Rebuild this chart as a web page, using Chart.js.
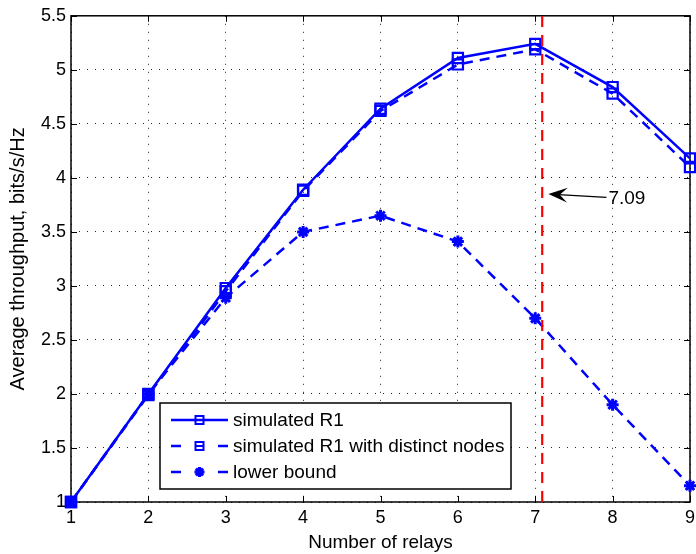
<!DOCTYPE html>
<html>
<head>
<meta charset="utf-8">
<script src="https://cdn.jsdelivr.net/npm/chart.js@4.4.0/dist/chart.umd.min.js"></script>
<style>
  html, body { margin: 0; padding: 0; background: #fff; }
</style>
</head>
<body>
<canvas id="relayChart" width="696" height="554"></canvas>
<script>
// data
const relays = [1, 2, 3, 4, 5, 6, 7, 8, 9];
const simR1 = [1.0, 2.0, 2.98, 3.89, 4.64, 5.11, 5.24, 4.84, 4.18];
const simDistinct = [1.0, 1.99, 2.95, 3.88, 4.62, 5.05, 5.19, 4.78, 4.10];
const lowerBound = [1.0, 2.0, 2.89, 3.50, 3.65, 3.41, 2.70, 1.90, 1.15];
const optimumX = 7.09;
const xTicks = [1, 2, 3, 4, 5, 6, 7, 8, 9];
const yTicks = [1, 1.5, 2, 2.5, 3, 3.5, 4, 4.5, 5, 5.5];
const legendLabels = ['simulated R1', 'simulated R1 with distinct nodes', 'lower bound'];
const noteText = '7.09';
const noteTip = [7.17, 3.85];
const noteTail = [7.92, 3.82];

const BLUE = '#0000ff';
const FONT = '"Liberation Sans", Arial, Helvetica, sans-serif';

const toPoints = ys => relays.map((x, i) => ({ x: x, y: ys[i] }));

// axes box + inward ticks (matlab style)
const boxPlugin = {
    id: 'box',
    beforeDatasetsDraw(chart) {
        const { ctx, chartArea: a, scales } = chart;
        ctx.save();
        ctx.strokeStyle = '#000';
        ctx.lineWidth = 1;
        ctx.beginPath();
        xTicks.forEach(v => {
            const px = Math.round(scales.x.getPixelForValue(v)) + 0.5;
            ctx.moveTo(px, a.bottom); ctx.lineTo(px, a.bottom - 6);
            ctx.moveTo(px, a.top); ctx.lineTo(px, a.top + 6);
        });
        yTicks.forEach(v => {
            const py = Math.round(scales.y.getPixelForValue(v)) + 0.5;
            ctx.moveTo(a.left, py); ctx.lineTo(a.left + 6, py);
            ctx.moveTo(a.right, py); ctx.lineTo(a.right - 6, py);
        });
        ctx.stroke();
        ctx.lineWidth = 1.5;
        ctx.strokeRect(a.left, a.top, a.right - a.left, a.bottom - a.top);
        ctx.restore();
    }
};

function drawMarker(ctx, style, x, y) {
    ctx.beginPath();
    if (style === 'rect') {
        ctx.rect(x - 4, y - 4, 8, 8);
        ctx.moveTo(x - 4, y); ctx.lineTo(x + 4, y);
    } else {
        for (let k = 0; k < 4; k++) {
            const ang = k * Math.PI / 4;
            ctx.moveTo(x - 5 * Math.cos(ang), y - 5 * Math.sin(ang));
            ctx.lineTo(x + 5 * Math.cos(ang), y + 5 * Math.sin(ang));
        }
    }
    ctx.stroke();
}

// legend box inside the plot, lower left
const legendPlugin = {
    id: 'innerLegend',
    afterDraw(chart) {
        const { ctx, chartArea: a } = chart;
        const left = a.left + 89, top = a.bottom - 99, w = 351, h = 86;
        ctx.save();
        ctx.fillStyle = '#fff';
        ctx.fillRect(left, top, w, h);
        ctx.strokeStyle = '#000';
        ctx.lineWidth = 1.5;
        ctx.strokeRect(left, top, w, h);
        const styles = [
            { dashed: false, marker: 'rect' },
            { dashed: true, marker: 'rect' },
            { dashed: true, marker: 'star' }
        ];
        ctx.font = '19px ' + FONT;
        ctx.textBaseline = 'middle';
        styles.forEach((s, i) => {
            const y = top + 17 + i * 26;
            const x0 = left + 11, x1 = left + 68, xm = (x0 + x1) / 2;
            ctx.strokeStyle = BLUE;
            ctx.lineWidth = 2.5;
            ctx.beginPath();
            if (s.dashed) {
                ctx.moveTo(x0, y); ctx.lineTo(x0 + 10, y);
                ctx.moveTo(x1 - 10, y); ctx.lineTo(x1, y);
            } else {
                ctx.moveTo(x0, y); ctx.lineTo(x1, y);
            }
            ctx.stroke();
            ctx.lineWidth = s.marker === 'star' ? 3 : 2;
            drawMarker(ctx, s.marker, xm, y);
            ctx.fillStyle = '#000';
            ctx.fillText(legendLabels[i], left + 73, y + 1);
        });
        ctx.restore();
    }
};

// arrow pointing at the optimum
const notePlugin = {
    id: 'note',
    afterDatasetsDraw(chart) {
        const { ctx, scales } = chart;
        const tx = scales.x.getPixelForValue(noteTip[0]), ty = scales.y.getPixelForValue(noteTip[1]);
        const bx = scales.x.getPixelForValue(noteTail[0]), by = scales.y.getPixelForValue(noteTail[1]);
        const len = Math.hypot(bx - tx, by - ty);
        const ux = (bx - tx) / len, uy = (by - ty) / len;
        const nx = -uy, ny = ux;
        const L = 19, W = 7.5;
        ctx.save();
        ctx.strokeStyle = '#000';
        ctx.fillStyle = '#000';
        ctx.lineWidth = 1.2;
        ctx.beginPath();
        ctx.moveTo(tx + ux * 10, ty + uy * 10);
        ctx.lineTo(bx, by);
        ctx.stroke();
        ctx.beginPath();
        ctx.moveTo(tx, ty);
        ctx.lineTo(tx + ux * L + nx * W, ty + uy * L + ny * W);
        ctx.lineTo(tx + ux * L * 0.6, ty + uy * L * 0.6);
        ctx.lineTo(tx + ux * L - nx * W, ty + uy * L - ny * W);
        ctx.closePath();
        ctx.fill();
        ctx.font = '19px ' + FONT;
        ctx.textBaseline = 'middle';
        ctx.fillText(noteText, bx + 2, by + 1);
        ctx.restore();
    }
};

const tickFont = { family: FONT, size: 18 };

new Chart(document.getElementById('relayChart'), {
    type: 'line',
    data: {
        datasets: [
            {
                label: 'optimum',
                data: [{ x: optimumX, y: 1 }, { x: optimumX, y: 5.5 }],
                borderColor: '#ff0000',
                borderWidth: 2.2,
                borderDash: [11, 8],
                pointRadius: 0,
                order: -1
            },
            {
                label: legendLabels[0],
                data: toPoints(simR1),
                borderColor: BLUE,
                borderWidth: 2.5,
                pointStyle: 'rect',
                pointRadius: 7.2,
                pointBorderWidth: 2.2,
                pointBackgroundColor: 'rgba(0,0,0,0)',
                pointBorderColor: BLUE,
                clip: false
            },
            {
                label: legendLabels[1],
                data: toPoints(simDistinct),
                borderColor: BLUE,
                borderWidth: 2.5,
                borderDash: [10, 7],
                pointStyle: 'rect',
                pointRadius: 7.2,
                pointBorderWidth: 2.2,
                pointBackgroundColor: 'rgba(0,0,0,0)',
                pointBorderColor: BLUE,
                clip: false
            },
            {
                label: legendLabels[2],
                data: toPoints(lowerBound),
                borderColor: BLUE,
                borderWidth: 2.5,
                borderDash: [10, 7],
                pointStyle: 'star',
                pointRadius: 6,
                pointBorderWidth: 3,
                pointBorderColor: BLUE,
                clip: false
            }
        ]
    },
    options: {
        responsive: false,
        animation: false,
        layout: { autoPadding: false, padding: { top: 15, right: 0, left: 0, bottom: 0 } },
        scales: {
            x: {
                type: 'linear',
                min: 1,
                max: 9,
                afterBuildTicks: s => { s.ticks = xTicks.map(v => ({ value: v })); },
                afterFit: s => { s.height = 52; s.paddingLeft = 0; s.paddingRight = 6; },
                grid: { color: '#222', lineWidth: 1, drawTicks: false },
                border: { display: false, dash: [1, 7] },
                ticks: { color: '#000', font: tickFont, padding: 5, maxRotation: 0, callback: v => String(v) },
                title: { display: true, text: 'Number of relays', color: '#000', font: { family: FONT, size: 19 }, padding: { top: 3, bottom: 0 } }
            },
            y: {
                min: 1,
                max: 5.5,
                afterBuildTicks: s => { s.ticks = yTicks.map(v => ({ value: v })); },
                afterFit: s => { s.width = 71; },
                grid: { color: '#222', lineWidth: 1, drawTicks: false },
                border: { display: false, dash: [1, 7] },
                ticks: { color: '#000', font: tickFont, padding: 5, callback: v => String(v) },
                title: { display: true, text: 'Average throughput, bits/s/Hz', color: '#000', font: { family: FONT, size: 20 }, padding: { top: 6, bottom: 0 } }
            }
        },
        plugins: {
            legend: { display: false },
            tooltip: { enabled: false }
        }
    },
    plugins: [boxPlugin, notePlugin, legendPlugin]
});
</script>
</body>
</html>
